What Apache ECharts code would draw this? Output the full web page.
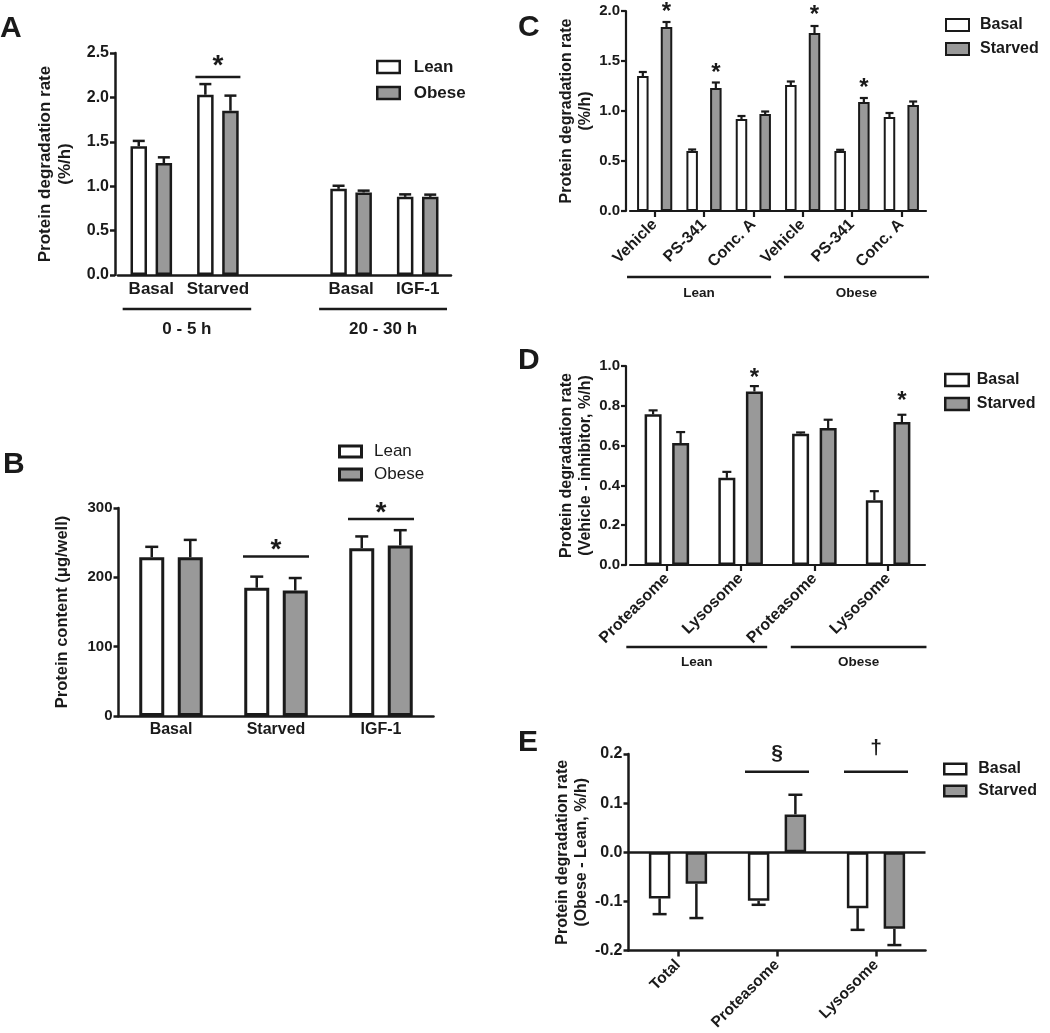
<!DOCTYPE html>
<html><head><meta charset="utf-8">
<script src="https://cdn.jsdelivr.net/npm/echarts@6/dist/echarts.min.js"></script>
<style>html,body{margin:0;padding:0;background:#fff}#c{width:1050px;height:1033px}</style>
</head><body><div id="c"></div>
<script>
// ---------------- DATA ----------------
// Panel A
const aCategories = ['Basal', 'Starved', '', 'Basal', 'IGF-1'];
const aLean = [1.45, 2.03, null, 0.97, 0.88];
const aLeanErr = [0.06, 0.12, null, 0.035, 0.028];
const aObese = [1.26, 1.85, null, 0.93, 0.88];
const aObeseErr = [0.065, 0.17, null, 0.02, 0.025];
const aGroups = ['0 - 5 h', '20 - 30 h'];
const aGroupSpans = [[-0.43, 1.5], [2.52, 4.44]];
const aSigCats = [1];
const aSigLineY = [2.23];
const aSigMarkY = [2.42];
const aSigMarks = ['*'];
// Panel B
const bCategories = ['Basal', 'Starved', 'IGF-1'];
const bLean = [229, 185, 242];
const bLeanErr = [15, 16, 17];
const bObese = [229, 181, 246];
const bObeseErr = [25, 18, 22];
const bSigCats = [1, 2];
const bSigLineY = [230, 284];
const bSigMarkY = [249, 301];
const bSigMarks = ['*', '*'];
// Panel C
const cCategories = ['Vehicle', 'PS-341', 'Conc. A', 'Vehicle', 'PS-341', 'Conc. A'];
const cBasal = [1.35, 0.60, 0.92, 1.26, 0.60, 0.94];
const cBasalErr = [0.04, 0.015, 0.03, 0.035, 0.012, 0.04];
const cStarved = [1.84, 1.23, 0.97, 1.78, 1.09, 1.06];
const cStarvedErr = [0.05, 0.055, 0.025, 0.07, 0.04, 0.035];
const cGroups = ['Lean', 'Obese'];
const cGroupSpans = [[-0.56, 2.36], [2.62, 5.56]];
const cStarCats = [0, 1, 3, 4];
const cStarY = [2.04, 1.43, 2.01, 1.28];
// Panel D
const dCategories = ['Proteasome', 'Lysosome', 'Proteasome', 'Lysosome'];
const dBasal = [0.757, 0.438, 0.66, 0.326];
const dBasalErr = [0.02, 0.03, 0.006, 0.045];
const dStarved = [0.613, 0.872, 0.688, 0.718];
const dStarvedErr = [0.055, 0.027, 0.042, 0.037];
const dGroups = ['Lean', 'Obese'];
const dGroupSpans = [[-0.55, 1.36], [1.68, 3.52]];
const dStarCats = [1, 3];
const dStarY = [0.967, 0.852];
// Panel E
const eCategories = ['Total', 'Proteasome', 'Lysosome'];
const eBasal = [-0.094, -0.099, -0.114];
const eBasalErr = [0.032, 0.008, 0.044];
const eStarved = [-0.064, 0.077, -0.156];
const eStarvedErr = [0.07, 0.04, 0.033];
const eSigCats = [1, 2];
const eSigLineY = [0.164, 0.164];
const eSigMarkY = [0.200, 0.208];
const eSigMarks = ['§', '†'];

// ---------------- STYLE / LAYOUT ----------------
const INK = '#1a1a1a', GREY = '#999999', WHITE = '#ffffff', FONT = 'Liberation Sans';

const panels = [
  { key: 'A', letterPos: [0, 29], grid: { left: 118, top: 53, width: 333, height: 222 }, yOff: 3,
    min: 0, max: 2.5, step: 0.5, dec: 1, tickFs: 16,
    yName: 'Protein degradation rate\n(%/h)', nameFs: 17, nameLh: 20, nameGap: 40,
    cats: aCategories, xFs: 17, rot: 0, xTicks: false, xMargin: 6,
    series: [{ name: 'Lean', vals: aLean, err: aLeanErr, color: WHITE }, { name: 'Obese', vals: aObese, err: aObeseErr, color: GREY }],
    bw: 16.5, gap: 0.52, border: 2.5, cap: 12, lw: 2.5,
    legend: { left: 376, top: 58, w: 22.5, h: 12, gap: 8, fs: 17, lh: 18, weight: 'bold', pad: 9 },
    groups: aGroups, groupSpans: aGroupSpans, groupLineDy: 34, groupTextDy: 54, groupFs: 17,
    sig: { cats: aSigCats, lineY: aSigLineY, markY: aSigMarkY, marks: aSigMarks, half: 22.5, fs: 28 } },
  { key: 'B', letterPos: [3, 465], grid: { left: 118.5, top: 508, width: 315, height: 208 }, yOff: 0,
    min: 0, max: 300, step: 100, dec: 0, tickFs: 15,
    yName: 'Protein content (\u03bcg/well)', nameFs: 16.5, nameLh: 20, nameGap: 46,
    cats: bCategories, xFs: 16, rot: 0, xTicks: false, xMargin: 6,
    series: [{ name: 'Lean', vals: bLean, err: bLeanErr, color: WHITE }, { name: 'Obese', vals: bObese, err: bObeseErr, color: GREY }],
    bw: 25, gap: 0.54, border: 3, cap: 13, lw: 2.5,
    legend: { left: 338, top: 442.5, w: 22, h: 11, gap: 5, fs: 17, lh: 18, weight: 'normal', pad: 7.5 },
    sig: { cats: bSigCats, lineY: bSigLineY, markY: bSigMarkY, marks: bSigMarks, half: 33, fs: 28 } },
  { key: 'C', letterPos: [518, 28], grid: { left: 630, top: 11, width: 296, height: 200 }, yOff: 4,
    min: 0, max: 2, step: 0.5, dec: 1, tickFs: 15,
    yName: 'Protein degradation rate\n(%/h)', nameFs: 16, nameLh: 19, nameGap: 28,
    cats: cCategories, xFs: 16, rot: 45, xTicks: true, xMargin: 11,
    series: [{ name: 'Basal', vals: cBasal, err: cBasalErr, color: WHITE }, { name: 'Starved', vals: cStarved, err: cStarvedErr, color: GREY }],
    bw: 11.5, gap: 1.06, border: 2, cap: 8, lw: 2.2,
    legend: { left: 945, top: 17, w: 23, h: 12, gap: 8, fs: 16, lh: 16, weight: 'bold', pad: 6 },
    groups: cGroups, groupSpans: cGroupSpans, groupLineDy: 66, groupTextDy: 82, groupFs: 13.5,
    stars: { cats: cStarCats, y: cStarY, fs: 24 } },
  { key: 'D', letterPos: [518, 361], grid: { left: 630, top: 366, width: 295, height: 199 }, yOff: 4,
    min: 0, max: 1, step: 0.2, dec: 1, tickFs: 15,
    yName: 'Protein degradation rate\n(Vehicle - inhibitor, %/h)', nameFs: 16, nameLh: 19, nameGap: 31,
    cats: dCategories, xFs: 16, rot: 45, xTicks: true, xMargin: 11,
    series: [{ name: 'Basal', vals: dBasal, err: dBasalErr, color: WHITE }, { name: 'Starved', vals: dStarved, err: dStarvedErr, color: GREY }],
    bw: 17, gap: 0.62, border: 2.5, cap: 9, lw: 2.2,
    legend: { left: 944, top: 372, w: 23.5, h: 12, gap: 8, fs: 16, lh: 16, weight: 'bold', pad: 3 },
    groups: dGroups, groupSpans: dGroupSpans, groupLineDy: 82, groupTextDy: 97, groupFs: 13.5,
    stars: { cats: dStarCats, y: dStarY, fs: 24 } },
  { key: 'E', letterPos: [518, 743], grid: { left: 628.5, top: 754, width: 297, height: 199 }, yOff: 0,
    min: -0.2, max: 0.2, step: 0.1, dec: 1, tickFs: 16, zeroLine: true,
    yName: 'Protein degradation rate\n(Obese - Lean, %/h)', nameFs: 16, nameLh: 19, nameGap: 33,
    cats: eCategories, xFs: 15.5, rot: 45, xTicks: true, xMargin: 12,
    series: [{ name: 'Basal', vals: eBasal, err: eBasalErr, color: WHITE }, { name: 'Starved', vals: eStarved, err: eStarvedErr, color: GREY }],
    bw: 21.5, gap: 0.71, border: 2.5, cap: 14, lw: 2.5,
    legend: { left: 943, top: 761, w: 22, h: 10.5, gap: 6, fs: 16, lh: 16, weight: 'bold', pad: 7 },
    sig: { cats: eSigCats, lineY: eSigLineY, markY: eSigMarkY, marks: eSigMarks, half: 32, fs: 21 } }
];

const chart = echarts.init(document.getElementById('c'), null, { renderer: 'canvas' });
const option = { animation: false, backgroundColor: '#fff', grid: [], xAxis: [], yAxis: [], series: [], legend: [] };

panels.forEach((p, i) => {
  option.grid.push(Object.assign({ containLabel: false }, p.grid));
  option.xAxis.push({
    type: 'category', gridIndex: i, data: p.cats, boundaryGap: true,
    axisLine: { show: true, onZero: !p.zeroLine, lineStyle: { color: INK, width: p.lw } },
    axisTick: { show: p.xTicks, alignWithLabel: true, length: 6, lineStyle: { color: INK, width: p.lw } },
    axisLabel: { interval: 0, rotate: p.rot, margin: p.xMargin, color: INK, fontFamily: FONT, fontWeight: 'bold', fontSize: p.xFs },
    splitLine: { show: false }
  });
  option.yAxis.push({
    type: 'value', gridIndex: i, min: p.min, max: p.max, interval: p.step, offset: p.yOff,
    axisLine: { show: true, lineStyle: { color: INK, width: p.lw } },
    axisTick: { show: true, length: 5, lineStyle: { color: INK, width: p.lw } },
    axisLabel: { margin: 6, color: INK, fontFamily: FONT, fontWeight: 'bold', fontSize: p.tickFs,
      formatter: v => Number(v).toFixed(p.dec) },
    splitLine: { show: false },
    name: p.yName, nameLocation: 'middle', nameRotate: 90, nameGap: p.nameGap,
    nameTextStyle: { color: INK, fontFamily: FONT, fontWeight: 'bold', fontSize: p.nameFs, lineHeight: p.nameLh, align: 'center' }
  });
  p.series.forEach((s, k) => {
    const side = k === 0 ? -1 : 1;
    const bar = {
      type: 'bar', name: s.name, xAxisIndex: i, yAxisIndex: i,
      data: s.vals.map(v => v == null ? '-' : v),
      barWidth: p.bw, barGap: (p.gap * 100) + '%',
      itemStyle: { color: s.color, borderColor: INK, borderWidth: p.border },
      emphasis: { disabled: true }, z: 2
    };
    if (p.zeroLine && k === 0) {
      bar.markLine = { silent: true, symbol: 'none', label: { show: false },
        lineStyle: { color: INK, width: p.lw, type: 'solid' }, data: [{ yAxis: 0 }] };
    }
    option.series.push(bar);
    option.series.push({
      type: 'custom', name: s.name + ' error', xAxisIndex: i, yAxisIndex: i, z: 3,
      encode: { x: 0, y: 1 },
      data: s.vals.map((v, j) => v == null ? null : [j, v, s.err[j]]).filter(Boolean),
      renderItem: (params, api) => {
        const x = api.value(0), v = api.value(1), e = api.value(2);
        const b = api.coord([x, v]);
        const t = api.coord([x, v >= 0 ? v + e : v - e]);
        const cx = b[0] + side * p.bw * (1 + p.gap) / 2;
        const st = { stroke: INK, lineWidth: p.lw };
        return { type: 'group', children: [
          { type: 'line', shape: { x1: cx, y1: b[1], x2: cx, y2: t[1] }, style: st },
          { type: 'line', shape: { x1: cx - p.cap / 2, y1: t[1], x2: cx + p.cap / 2, y2: t[1] }, style: st }
        ] };
      }
    });
  });
  const L = p.legend;
  option.legend.push({
    show: true, orient: 'vertical', left: L.left, top: L.top, padding: 0,
    itemWidth: L.w, itemHeight: L.h, itemGap: L.gap, icon: 'rect', selectedMode: false,
    data: p.series.map(s => s.name),
    itemStyle: { borderColor: INK, borderWidth: p.border },
    textStyle: { color: INK, fontFamily: FONT, fontWeight: L.weight, fontSize: L.fs, lineHeight: L.lh, padding: [0, 0, 0, L.pad] }
  });
});

chart.setOption(option);

// --------- annotations positioned through the chart's own scales ---------
const graphics = [];
const font = (w, s) => w + ' ' + s + 'px "' + FONT + '"';
function catX(i, c) {
  const p0 = chart.convertToPixel({ gridIndex: i }, [0, 0]);
  const p1 = chart.convertToPixel({ gridIndex: i }, [1, 0]);
  return p0[0] + c * (p1[0] - p0[0]);
}
function valY(i, v) { return chart.convertToPixel({ gridIndex: i }, [0, v])[1]; }
function hline(x1, x2, y, w) {
  graphics.push({ type: 'line', shape: { x1, y1: y, x2, y2: y }, style: { stroke: INK, lineWidth: w }, silent: true });
}
function text(str, x, y, fs, weight, align) {
  graphics.push({ type: 'text', x, y, silent: true,
    style: { text: str, font: font(weight, fs), fill: INK, align: align || 'center', verticalAlign: 'middle' } });
}
const markShift = { '*': 0.23, '§': -0.06, '†': -0.08 };

panels.forEach((p, i) => {
  text(p.key, p.letterPos[0], p.letterPos[1], 30, 'bold', 'left');
  const axisY = valY(i, p.min);
  if (p.groups) {
    p.groups.forEach((g, k) => {
      const x1 = catX(i, p.groupSpans[k][0]), x2 = catX(i, p.groupSpans[k][1]);
      hline(x1, x2, axisY + p.groupLineDy, 2.5);
      text(g, (x1 + x2) / 2, axisY + p.groupTextDy, p.groupFs, 'bold');
    });
  }
  if (p.sig) {
    const S = p.sig;
    S.cats.forEach((c, k) => {
      const cx = catX(i, c);
      hline(cx - S.half, cx + S.half, valY(i, S.lineY[k]), 2.5);
      const m = S.marks[k];
      text(m, cx, valY(i, S.markY[k]) + markShift[m] * S.fs, S.fs, 'bold');
    });
  }
  if (p.stars) {
    const S = p.stars;
    S.cats.forEach((c, k) => {
      const cx = catX(i, c) + p.bw * (1 + p.gap) / 2;
      text('*', cx, valY(i, S.y[k]) + markShift['*'] * S.fs, S.fs, 'bold');
    });
  }
});

chart.setOption({ graphic: graphics });
</script>
</body></html>
